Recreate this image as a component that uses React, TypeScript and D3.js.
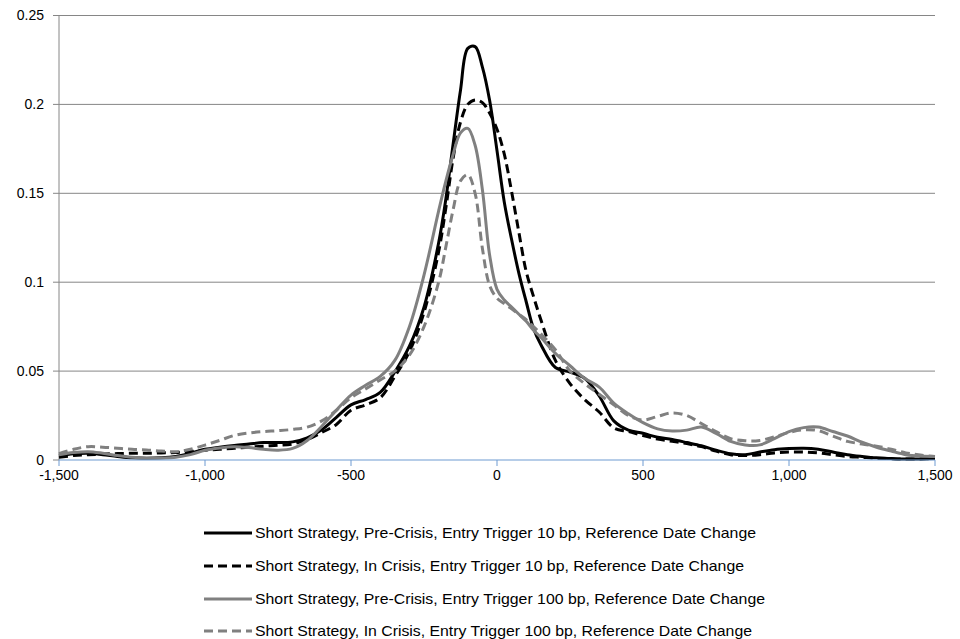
import React from "react";
import * as d3 from "d3";

const xValues: number[] = [
  -1500, -1450, -1400, -1350, -1300, -1250, -1200, -1150, -1100, -1050, -1000, -950, -900, -850, -800, -750,
  -700, -650, -600, -550, -500, -450, -400, -350, -300, -250, -200,
  -175, -150, -125, -100, -75, -50, -25, 0, 25, 50, 75, 100, 125, 150,
  200, 250, 300, 350, 400, 450, 500, 550, 600, 650, 700, 750, 800, 850, 900, 950, 1000,
  1050, 1100, 1150, 1200, 1250, 1300, 1350, 1400, 1450, 1500,
];

const preCrisis10: number[] = [
  0.0025, 0.0035, 0.0038, 0.003, 0.002, 0.0012, 0.001, 0.0012, 0.002, 0.0038, 0.006, 0.0072, 0.0082, 0.009, 0.0098, 0.0098,
  0.0102, 0.0125, 0.017, 0.024, 0.031, 0.034, 0.038, 0.0495, 0.064, 0.086, 0.122,
  0.147, 0.178, 0.208, 0.2315, 0.2325, 0.221, 0.202, 0.174, 0.145, 0.124, 0.105, 0.089, 0.074, 0.065,
  0.052, 0.0495, 0.046, 0.036, 0.022, 0.0168, 0.015, 0.0128, 0.0115, 0.0098, 0.008, 0.0055, 0.0035, 0.003, 0.0045, 0.0058, 0.0064,
  0.0066, 0.006, 0.0045, 0.003, 0.002, 0.0012, 0.0008, 0.0005, 0.0006, 0.0008,
];

const inCrisis10: number[] = [
  0.0015, 0.0025, 0.003, 0.0033, 0.0036, 0.0038, 0.0038, 0.004, 0.0042, 0.0048, 0.0055, 0.006, 0.0066, 0.0072, 0.0078, 0.0083,
  0.009, 0.0115, 0.0155, 0.02, 0.028, 0.031, 0.035, 0.047, 0.061, 0.083, 0.117,
  0.142, 0.17, 0.19, 0.2, 0.2025, 0.201, 0.195, 0.186, 0.172, 0.151, 0.128, 0.106, 0.092, 0.079,
  0.056, 0.043, 0.034, 0.027, 0.018, 0.016, 0.0138, 0.0118, 0.0105, 0.0092, 0.0075, 0.005, 0.003, 0.0025, 0.003, 0.004, 0.0045,
  0.0045, 0.004, 0.003, 0.002, 0.0015, 0.001, 0.0007, 0.0005, 0.0006, 0.0008,
];

const preCrisis100: number[] = [
  0.003, 0.0042, 0.0047, 0.0038, 0.0025, 0.0015, 0.001, 0.0011, 0.0015, 0.003, 0.0055, 0.0068, 0.0075, 0.007, 0.006, 0.0055,
  0.0065, 0.011, 0.019, 0.028, 0.0365, 0.042, 0.047, 0.056, 0.075, 0.104, 0.14,
  0.157, 0.172, 0.184, 0.1865, 0.177, 0.152, 0.115, 0.096, 0.09, 0.086, 0.082, 0.078, 0.073, 0.069,
  0.06, 0.053, 0.046, 0.041, 0.032, 0.026, 0.021, 0.0175, 0.0163, 0.0168, 0.0185, 0.015, 0.0105, 0.0085, 0.0085, 0.012, 0.016,
  0.0182, 0.0185, 0.016, 0.0135, 0.01, 0.0072, 0.005, 0.003, 0.0022, 0.002,
];

const inCrisis100: number[] = [
  0.0035, 0.006, 0.0075, 0.0072, 0.0066, 0.006, 0.0056, 0.005, 0.0047, 0.006, 0.0084, 0.011, 0.0138, 0.0152, 0.016, 0.0165,
  0.0172, 0.0185, 0.022, 0.028, 0.035, 0.04, 0.045, 0.05, 0.059, 0.075, 0.1,
  0.12, 0.141, 0.157, 0.1605, 0.15, 0.119, 0.098, 0.091, 0.088, 0.085, 0.082, 0.079, 0.075, 0.071,
  0.062, 0.05, 0.043, 0.037, 0.031, 0.025, 0.0225, 0.0245, 0.0265, 0.025, 0.0205, 0.016, 0.012, 0.0108, 0.011, 0.013, 0.0155,
  0.017, 0.0165, 0.0135, 0.0105, 0.009, 0.0078, 0.006, 0.004, 0.0028, 0.002,
];

const seriesNames: string[] = [
  "Short Strategy, Pre-Crisis, Entry Trigger 10 bp, Reference Date Change",
  "Short Strategy, In Crisis, Entry Trigger 10 bp, Reference Date Change",
  "Short Strategy, Pre-Crisis, Entry Trigger 100 bp, Reference Date Change",
  "Short Strategy, In Crisis, Entry Trigger 100 bp, Reference Date Change",
];

const yTicks: number[] = [0, 0.05, 0.1, 0.15, 0.2, 0.25];
const yTickLabels: string[] = ["0", "0.05", "0.1", "0.15", "0.2", "0.25"];
const xTicks: number[] = [-1500, -1000, -500, 0, 500, 1000, 1500];
const xTickLabels: string[] = ["-1,500", "-1,000", "-500", "0", "500", "1,000", "1,500"];

const styles = [
  { color: "#000000", dash: "" },
  { color: "#000000", dash: "9,5" },
  { color: "#808080", dash: "" },
  { color: "#808080", dash: "9,5" },
];

const legendWidths: number[] = [501, 489, 510, 497];

const FONT = "'Liberation Sans', Arial, sans-serif";

export default function App() {
  const width = 960;
  const height = 639;
  const left = 59;
  const right = 935;
  const top = 15.5;
  const bottom = 460;

  const x = d3.scaleLinear().domain([-1500, 1500]).range([left, right]);
  const y = d3.scaleLinear().domain([0, 0.25]).range([bottom, top]);

  const allSeries = [preCrisis10, inCrisis10, preCrisis100, inCrisis100];
  const line = d3
    .line<number>()
    .x((_, i) => x(xValues[i]))
    .y((d) => y(d))
    .curve(d3.curveCatmullRom.alpha(0.5));

  const legendX1 = 204;
  const legendX2 = 252;
  const legendRows = [533, 566, 599, 631];

  return (
    <div style={{ position: "absolute", left: 0, top: 0 }}>
      <svg width={width} height={height} style={{ display: "block", background: "#fff" }}>
        {yTicks.map((t, i) => (
          <g key={"y" + i}>
            {t > 0 && (
              <line x1={left} x2={right} y1={y(t)} y2={y(t)} stroke="#868686" strokeWidth={1} />
            )}
            <line x1={left - 6} x2={left} y1={y(t)} y2={y(t)} stroke="#868686" strokeWidth={1} />
            <text
              x={left - 15}
              y={y(t)}
              dy="0.35em"
              textAnchor="end"
              fontFamily={FONT}
              fontSize={14}
              fill="#000"
            >
              {yTickLabels[i]}
            </text>
          </g>
        ))}
        <line x1={left} x2={left} y1={top} y2={bottom} stroke="#868686" strokeWidth={1} />
        {allSeries.map((s, i) => (
          <path
            key={"s" + i}
            d={line(s) || ""}
            fill="none"
            stroke={styles[i].color}
            strokeWidth={3}
            strokeDasharray={styles[i].dash || undefined}
            strokeLinejoin="round"
          />
        ))}
        <line x1={left} x2={right} y1={bottom} y2={bottom} stroke="#6f9bd2" strokeWidth={1.2} />
        {xTicks.map((t, i) => (
          <g key={"x" + i}>
            <line x1={x(t)} x2={x(t)} y1={bottom} y2={bottom + 6} stroke="#6f9bd2" strokeWidth={1} />
            <text
              x={x(t)}
              y={bottom + 15}
              dy="0.35em"
              textAnchor="middle"
              fontFamily={FONT}
              fontSize={14}
              fill="#000"
            >
              {xTickLabels[i]}
            </text>
          </g>
        ))}
        {seriesNames.map((name, i) => (
          <g key={"l" + i}>
            <line
              x1={legendX1}
              x2={legendX2}
              y1={legendRows[i]}
              y2={legendRows[i]}
              stroke={styles[i].color}
              strokeWidth={3}
              strokeDasharray={styles[i].dash || undefined}
            />
            <text
              x={legendX2 + 3}
              y={legendRows[i]}
              dy="0.35em"
              fontFamily={FONT}
              fontSize={15}
              textLength={legendWidths[i]}
              lengthAdjust="spacingAndGlyphs"
              fill="#000"
            >
              {name}
            </text>
          </g>
        ))}
      </svg>
    </div>
  );
}
